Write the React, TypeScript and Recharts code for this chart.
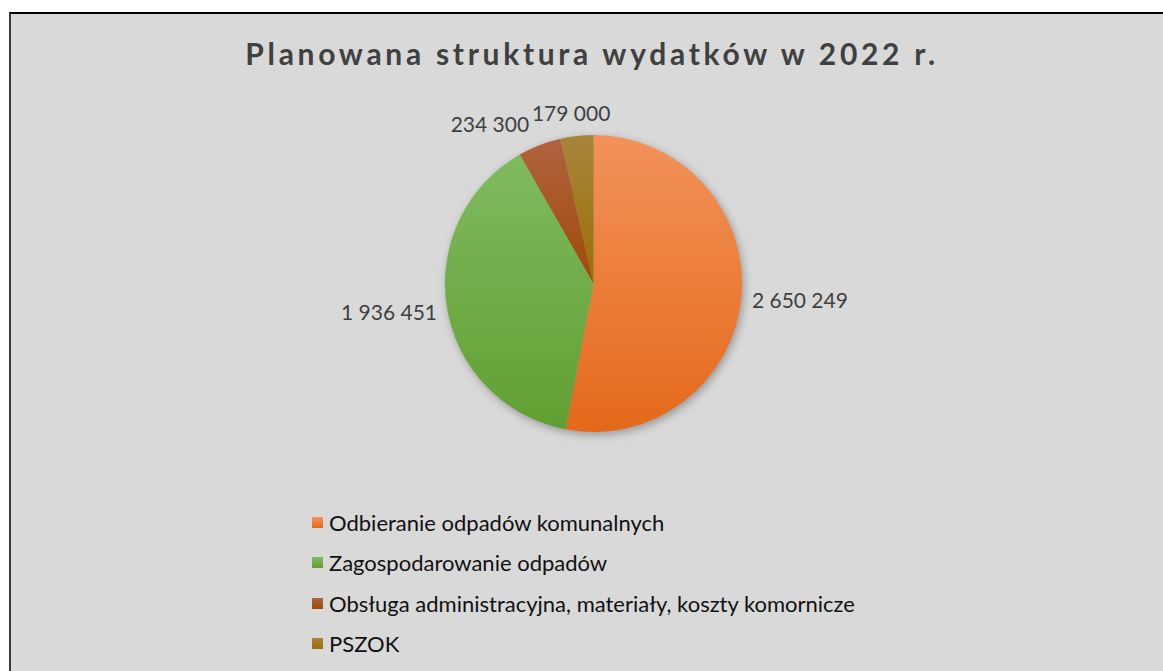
import React from 'react';
import { PieChart, Pie, Cell } from 'recharts';

const categories = [
  'Odbieranie odpadów komunalnych',
  'Zagospodarowanie odpadów',
  'Obsługa administracyjna, materiały, koszty komornicze',
  'PSZOK',
];
const values = [2650249, 1936451, 234300, 179000];
const valueLabels = ['2 650 249', '1 936 451', '234 300', '179 000'];
const title = 'Planowana struktura wydatków w 2022 r.';

const gradTop = ['#F3925A', '#80BA5F', '#B0633F', '#A8853E'];
const gradBottom = ['#E4691A', '#60A032', '#A04A06', '#9A6F00'];

const data = categories.map((name, i) => ({ name, value: values[i], label: valueLabels[i] }));

const W = 1152;
const H = 655;
const CX = 582.5;
const CY = 269.5;
const R = 148.5;
const LABEL_FS = 21;
const LEGEND_FS = 22;
const FONT = 'Lato, "Open Sans", sans-serif';

type Box = { x: number; y: number; w: number; h: number };

function textWidth(s: string) {
  let w = 0;
  for (const ch of s) w += ch === ' ' ? 0.2 * LABEL_FS : 0.58 * LABEL_FS;
  return w;
}

function computeLabelBoxes(cx: number, cy: number, r: number): Box[] {
  const total = values.reduce((a, b) => a + b, 0);
  let start = 90;
  const boxes: (Box & { dx: number })[] = [];
  values.forEach((v, i) => {
    const span = (360 * v) / total;
    const mid = ((start - span / 2) * Math.PI) / 180;
    start -= span;
    const dx = Math.cos(mid);
    const dy = -Math.sin(mid);
    const px = cx + (r + 12) * dx;
    const py = cy + (r + 12) * dy;
    const w = textWidth(valueLabels[i]);
    const h = LABEL_FS * 1.1;
    boxes.push({ x: px + (dx * w) / 2, y: py + (dy * h) / 2, w, h, dx });
  });
  const order = boxes.map((_, i) => i).sort((a, b) => Math.abs(boxes[a].dx) - Math.abs(boxes[b].dx));
  const placed: number[] = [];
  for (const i of order) {
    const b = boxes[i];
    for (const j of placed) {
      const o = boxes[j];
      const ox = (b.w + o.w) / 2 + 4 - Math.abs(b.x - o.x);
      const oy = (b.h + o.h) / 2 - Math.abs(b.y - o.y);
      if (ox > 0 && oy > 0) {
        b.x += (b.dx < 0 ? -1 : 1) * ox;
      }
    }
    placed.push(i);
  }
  return boxes;
}

const renderLabel = (props: any) => {
  const { cx, cy, outerRadius, index } = props;
  const boxes = computeLabelBoxes(cx, cy, outerRadius);
  const b = boxes[index];
  return (
    <text
      x={b.x}
      y={b.y}
      textAnchor="middle"
      dominantBaseline="central"
      fill="#404040"
      fontSize={LABEL_FS}
      fontFamily={FONT}
    >
      {valueLabels[index]}
    </text>
  );
};

function ChartLegend() {
  return (
    <div
      style={{
        position: 'absolute',
        left: 301,
        top: 488,
        fontFamily: FONT,
        fontSize: LEGEND_FS,
        color: '#111',
      }}
    >
      {categories.map((name, i) => (
        <div key={i} style={{ display: 'flex', alignItems: 'center', height: 40.5 }}>
          <svg width={11} height={11} style={{ marginRight: 6, flex: 'none' }}>
            <rect x={0} y={0} width={11} height={11} fill={`url(#grad-${i})`} />
          </svg>
          <span style={{ whiteSpace: 'nowrap' }}>{name}</span>
        </div>
      ))}
    </div>
  );
}

export default function App() {
  return (
    <div
      style={{
        position: 'absolute',
        left: 9,
        top: 12,
        width: 1160,
        height: 665,
        boxSizing: 'border-box',
        borderTop: '2px solid #000',
        borderLeft: '2px solid #3a3a3a',
        background: '#d9d9d9',
        overflow: 'hidden',
      }}
    >
      <style>{`.recharts-pie > g:not(.recharts-pie-labels){filter:drop-shadow(2px 3px 4px rgba(0,0,0,0.3));}`}</style>
      <div
        style={{
          position: 'absolute',
          left: 5,
          top: 21,
          width: W,
          textAlign: 'center',
          fontFamily: FONT,
          fontWeight: 700,
          fontSize: 30,
          lineHeight: '36px',
          letterSpacing: 3.7,
          color: '#404040',
          zIndex: 2,
        }}
      >
        {title}
      </div>
      <PieChart width={W} height={H} margin={{ top: 0, right: 0, bottom: 0, left: 0 }}>
        <defs>
          {gradTop.map((c, i) => (
            <linearGradient key={i} id={`grad-${i}`} x1="0" y1="0" x2="0" y2="1">
              <stop offset="0%" stopColor={c} />
              <stop offset="100%" stopColor={gradBottom[i]} />
            </linearGradient>
          ))}
        </defs>
        <Pie
          data={data}
          dataKey="value"
          nameKey="name"
          cx={CX}
          cy={CY}
          outerRadius={R}
          startAngle={90}
          endAngle={-270}
          stroke="none"
          label={renderLabel}
          labelLine={false}
          isAnimationActive={false}
        >
          {data.map((_, i) => (
            <Cell key={i} fill={`url(#grad-${i})`} stroke="none" />
          ))}
        </Pie>
      </PieChart>
      <ChartLegend />
    </div>
  );
}
